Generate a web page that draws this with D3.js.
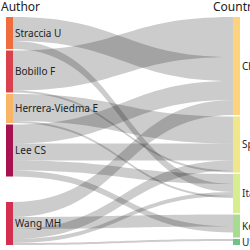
<!DOCTYPE html>
<html>
<head>
<meta charset="utf-8">
<script src="https://cdn.jsdelivr.net/npm/d3@7"></script>
<style>
  body { margin: 0; background: #fff; }
  svg { display: block; }
  text { font-family: "Noto Sans", sans-serif; fill: #222; }
</style>
</head>
<body>
<div id="chart"></div>
<script>
// fields
const authors = ['Straccia U', 'Bobillo F', 'Herrera-Viedma E', 'Lee CS', 'Wang MH'];
const countries = ['China', 'Spain', 'Italy', 'Korea', 'USA'];
// middle column nodes are as tall as max(in, out), out goes to a third field off the crop
const countryTotals = [98, 56, 39, 23, 6];

// link values, one entry per author (same order as authors)
const toChina = [24, 40, 0, 19, 15];
const toSpain = [0, 2, 27, 17, 10];
const toItaly = [8, 0, 2, 10, 4];
const toKorea = [0, 0, 0, 6, 12];
const toUSA   = [0, 0, 0, 0, 2];

const authorColors = ['#ef6c3c', '#d9414c', '#f9b466', '#a8114f', '#d3304f'];
const countryColors = ['#fdd37c', '#f0e68a', '#d7ee8e', '#a8dc91', '#6ec28c'];

const width = 250;
const height = 250;
const margin = { top: 17, bottom: 5 };
const nodeW = 7;
const pad = 1.5;
const xLeft = 6;
const xRight = 233;

const flows = [toChina, toSpain, toItaly, toKorea, toUSA];

const svg = d3.select('#chart').append('svg')
    .attr('width', width)
    .attr('height', height);

const span = height - margin.top - margin.bottom;
const yScale = d3.scaleLinear()
    .domain([0, d3.sum(countryTotals)])
    .range([0, span - pad * (countries.length - 1)]);

// nodes
const leftNodes = authors.map((name, i) => ({
    name: name, col: 0, idx: i, color: authorColors[i],
    value: d3.sum(flows, f => f[i])
}));
const rightNodes = countries.map((name, j) => ({
    name: name, col: 1, idx: j, color: countryColors[j],
    value: countryTotals[j]
}));

// stack right column from the top
let y = margin.top;
rightNodes.forEach(n => {
    n.y0 = y;
    n.y1 = y + yScale(n.value);
    y = n.y1 + pad;
});

// left column: stack from top, last node sits on the bottom
y = margin.top;
leftNodes.forEach((n, i) => {
    if (i === leftNodes.length - 1) {
        n.y1 = height - margin.bottom;
        n.y0 = n.y1 - yScale(n.value);
    } else {
        n.y0 = y;
        n.y1 = y + yScale(n.value);
        y = n.y1 + pad;
    }
});

// links
const links = [];
flows.forEach((f, j) => {
    f.forEach((v, i) => {
        if (v > 0) links.push({ source: leftNodes[i], target: rightNodes[j], value: v });
    });
});

// links stack at each node biggest first
const byValue = (a, b) => b.value - a.value;
leftNodes.forEach(n => {
    let sy = n.y0;
    links.filter(l => l.source === n)
        .sort(byValue)
        .forEach(l => { l.sy = sy; sy += yScale(l.value); });
});
rightNodes.forEach(n => {
    let ty = n.y0;
    links.filter(l => l.target === n)
        .sort(byValue)
        .forEach(l => { l.ty = ty; ty += yScale(l.value); });
});

function linkPath(l) {
    const x0 = xLeft + nodeW;
    const x1 = xRight;
    const xm = (x0 + x1) / 2;
    const w = yScale(l.value);
    return 'M' + x0 + ',' + l.sy +
        'C' + xm + ',' + l.sy + ' ' + xm + ',' + l.ty + ' ' + x1 + ',' + l.ty +
        'L' + x1 + ',' + (l.ty + w) +
        'C' + xm + ',' + (l.ty + w) + ' ' + xm + ',' + (l.sy + w) + ' ' + x0 + ',' + (l.sy + w) +
        'Z';
}

svg.append('g')
    .selectAll('path')
    .data(links)
    .enter().append('path')
    .attr('d', linkPath)
    .attr('fill', 'rgba(0,0,0,0.2)');

const nodes = leftNodes.concat(rightNodes);

svg.append('g')
    .selectAll('rect')
    .data(nodes)
    .enter().append('rect')
    .attr('x', d => d.col === 0 ? xLeft : xRight)
    .attr('y', d => d.y0)
    .attr('width', nodeW)
    .attr('height', d => d.y1 - d.y0)
    .attr('fill', d => d.color);

svg.append('g')
    .selectAll('text')
    .data(nodes)
    .enter().append('text')
    .attr('x', d => (d.col === 0 ? xLeft : xRight) + nodeW + 2)
    .attr('y', d => (d.y0 + d.y1) / 2)
    .attr('dy', '0.35em')
    .style('font-size', '10px')
    .text(d => d.name);

// column titles
svg.append('text')
    .attr('x', 1)
    .attr('y', 11)
    .style('font-size', '12px')
    .text('Author');
svg.append('text')
    .attr('x', 213)
    .attr('y', 11)
    .style('font-size', '12px')
    .text('Country');
</script>
</body>
</html>
